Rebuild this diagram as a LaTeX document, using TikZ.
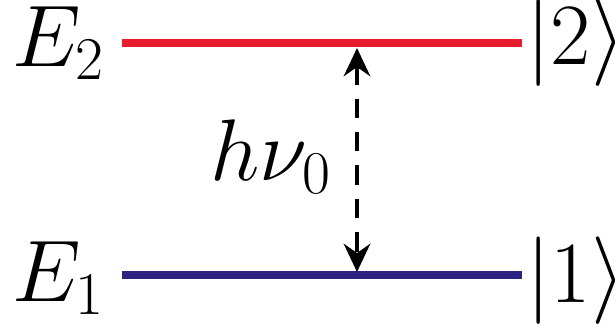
\documentclass[tikz,border=0pt]{standalone}
\usepackage{amsmath, amssymb}
\usepackage{tikz}
\usetikzlibrary{arrows.meta}
\usepackage{xcolor}

\definecolor{levelred}{RGB}{232,28,44}
\definecolor{levelblue}{RGB}{44,36,128}

\begin{document}
\begin{tikzpicture}[
      level/.style = {line width=2.5pt},
      label/.style = {inner sep=0pt, font=\fontsize{24}{28}\selectfont, text=black},
      transition/.style = {
        line width=1.4pt, dash pattern=on 5.5pt off 4pt,
        {Stealth[length=8pt, width=7.5pt]}-{Stealth[length=8pt, width=7.5pt]},
        shorten <=0.05cm, shorten >=0.03cm
      }
    ]
    \useasboundingbox (0,0) rectangle (6.15,3.25);

    % energy levels
    \coordinate (up-l)   at (1.22,2.82);
    \coordinate (up-r)   at (5.22,2.82);
    \coordinate (down-l) at (1.22,0.50);
    \coordinate (down-r) at (5.22,0.50);
    \coordinate (up-m)   at (3.57,2.82);
    \coordinate (down-m) at (3.57,0.50);

    \draw[level, levelred]  (up-l)   -- (up-r);
    \draw[level, levelblue] (down-l) -- (down-r);

    \node[label, anchor=base east] (E2)   at (1.06,2.59) {$E_2$};
    \node[label, anchor=base east] (E1)   at (1.06,0.24) {$E_1$};
    \node[label, anchor=base west] (ket2) at (5.26,2.61) {$|2\rangle$};
    \node[label, anchor=base west] (ket1) at (5.26,0.23) {$|1\rangle$};

    \draw[transition] (up-m) -- (down-m);
    \node[label, anchor=base west] (hnu) at (2.10,1.45) {$h\nu_0$};

  \end{tikzpicture}
\end{document}
